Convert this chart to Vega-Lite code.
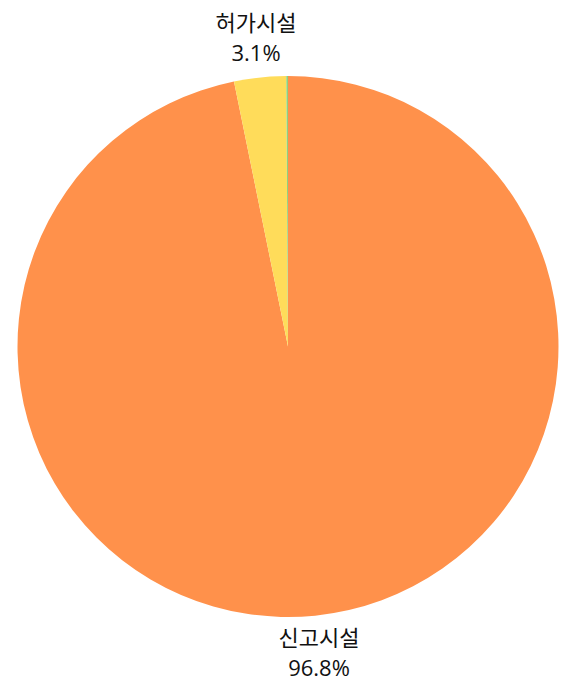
{
  "$schema": "https://vega.github.io/schema/vega-lite/v6.json",
  "width": 576,
  "height": 693,
  "padding": 0,
  "autosize": {"type": "none"},
  "background": "white",
  "view": {"stroke": null},
  "data": {
    "values": [
      {"category": "신고시설", "value": 96.8, "ord": 1, "label": "신고시설\n96.8%"},
      {"category": "허가시설", "value": 3.1, "ord": 2, "label": "허가시설\n3.1%"},
      {"category": "기타", "value": 0.1, "ord": 3, "label": ""}
    ]
  },
  "encoding": {
    "theta": {"field": "value", "type": "quantitative", "stack": true},
    "order": {"field": "ord", "type": "quantitative"}
  },
  "layer": [
    {
      "mark": {"type": "arc", "outerRadius": 270.5, "stroke": null},
      "encoding": {
        "color": {
          "field": "category",
          "type": "nominal",
          "scale": {
            "domain": ["신고시설", "허가시설", "기타"],
            "range": ["#FF914B", "#FFDC5A", "#8FD17F"]
          },
          "legend": null
        }
      }
    },
    {
      "mark": {
        "type": "text",
        "radius": 309,
        "dy": -15,
        "font": "'Open Sans', 'Noto Sans CJK KR'",
        "fontSize": 22,
        "lineHeight": 30,
        "lineBreak": "\n",
        "color": "#111111",
        "align": "center",
        "baseline": "middle"
      },
      "encoding": {
        "text": {"field": "label", "type": "nominal"}
      }
    }
  ]
}
